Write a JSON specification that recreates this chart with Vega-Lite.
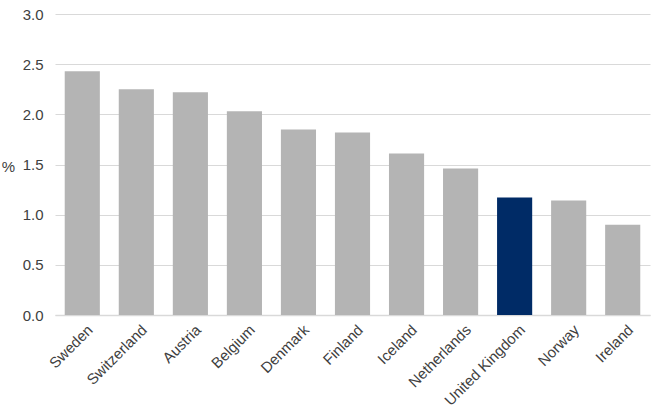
{
  "$schema": "https://vega.github.io/schema/vega-lite/v6.json",
  "width": 595,
  "height": 301,
  "autosize": {"type": "none"},
  "padding": {"left": 55, "top": 14, "right": 8, "bottom": 102},
  "background": "white",
  "config": {
    "view": {"stroke": null},
    "font": "Liberation Sans"
  },
  "data": {
    "values": [
      {"country": "Sweden", "value": 2.43},
      {"country": "Switzerland", "value": 2.25},
      {"country": "Austria", "value": 2.22},
      {"country": "Belgium", "value": 2.03},
      {"country": "Denmark", "value": 1.85},
      {"country": "Finland", "value": 1.82},
      {"country": "Iceland", "value": 1.61},
      {"country": "Netherlands", "value": 1.46},
      {"country": "United Kingdom", "value": 1.17},
      {"country": "Norway", "value": 1.14},
      {"country": "Ireland", "value": 0.9}
    ]
  },
  "mark": {"type": "bar"},
  "encoding": {
    "x": {
      "field": "country",
      "type": "nominal",
      "sort": null,
      "scale": {"paddingInner": 0.35, "paddingOuter": 0.18},
      "axis": {
        "title": null,
        "labelAngle": -45,
        "labelAlign": "right",
        "labelBaseline": "top",
        "labelFontSize": 15,
        "labelColor": "#404040",
        "labelPadding": 7,
        "labelOffset": 3,
        "ticks": false,
        "domainColor": "#d9d9d9",
        "domainWidth": 1.5
      }
    },
    "y": {
      "field": "value",
      "type": "quantitative",
      "scale": {"domain": [0, 3]},
      "axis": {
        "title": "%",
        "titleAngle": 0,
        "titleFontSize": 15,
        "titleFontWeight": "normal",
        "titleColor": "#404040",
        "titleBaseline": "middle",
        "titleX": -47,
        "titleY": 152,
        "values": [0, 0.5, 1, 1.5, 2, 2.5, 3],
        "format": ".1f",
        "labelFontSize": 15,
        "labelColor": "#404040",
        "labelPadding": 12,
        "domain": false,
        "ticks": false,
        "gridColor": "#d9d9d9",
        "gridWidth": 1
      }
    },
    "color": {
      "condition": {"test": "datum.country === 'United Kingdom'", "value": "#002b66"},
      "value": "#b4b4b4"
    }
  }
}
